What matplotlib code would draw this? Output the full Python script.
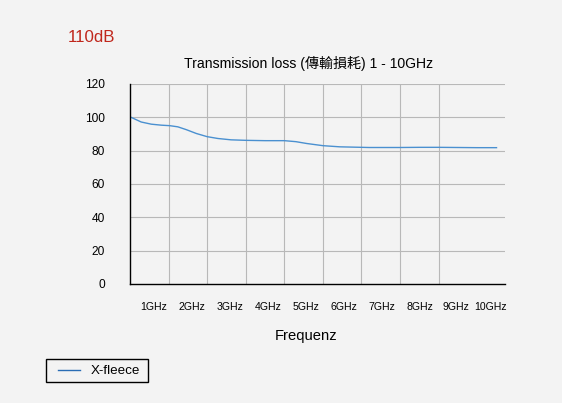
import matplotlib
matplotlib.use("Agg")
import matplotlib.pyplot as plt
from matplotlib.patches import Rectangle

plt.rcParams['font.family'] = ['Liberation Sans', 'Noto Sans CJK TC', 'DejaVu Sans']

# data
x_pos = [0, 0.29, 0.55, 0.81, 1.03, 1.24, 1.46, 1.72, 2.0, 2.28, 2.62, 3.0, 3.5, 4.0, 4.3,
         4.58, 5.0, 5.44, 6.2, 7.0, 7.5, 8.0, 8.5, 9.0, 9.5]
loss = [100.3, 97.2, 95.9, 95.3, 95.0, 94.3, 92.6, 90.3, 88.4, 87.3, 86.5, 86.2, 86.0, 86.0, 85.4,
        84.3, 83.0, 82.3, 81.9, 81.9, 82.0, 82.0, 81.9, 81.8, 81.8]
series_name = "X-fleece"
tick_labels = ["1GHz", "2GHz", "3GHz", "4GHz", "5GHz", "6GHz", "7GHz", "8GHz", "9GHz", "10GHz"]
tick_pos = [0.6, 1.6, 2.59, 3.58, 4.56, 5.54, 6.53, 7.51, 8.44, 9.34]
y_ticks = [0, 20, 40, 60, 80, 100, 120]

bg = '#f3f3f3'
W, H = 562, 403
fig = plt.figure(figsize=(5.62, 4.03), dpi=100, facecolor=bg)
ax = fig.add_axes([130/W, 119/H, 375/W, 200/H], facecolor=bg)

ax.plot(x_pos, loss, color='#4a90d0', lw=1.0, label=series_name)

ax.set_xlim(0, 9.72)
ax.set_ylim(0, 120)
ax.set_yticks(y_ticks)
ax.set_yticklabels([str(v) for v in y_ticks], fontsize=8.6)
ax.set_xticks(tick_pos)
ax.set_xticklabels(tick_labels, fontsize=7.6)
ax.tick_params(axis='both', length=0)
ax.tick_params(axis='y', pad=18)
ax.tick_params(axis='x', pad=13)

# grid
for gx in range(1, 9):
    ax.axvline(gx, color='#b8b8b8', lw=0.8, zorder=0)
for gy in y_ticks[1:]:
    ax.axhline(gy, color='#b8b8b8', lw=0.8, zorder=0)

for s in ['top', 'right']:
    ax.spines[s].set_visible(False)
for s in ['left', 'bottom']:
    ax.spines[s].set_color('black')
    ax.spines[s].set_linewidth(1.0)

fig.text(309/W, 1 - 63/H, "Transmission loss (傳輸損耗) 1 - 10GHz", fontsize=10.1,
         ha='center', va='center')
ax.set_xlabel("Frequenz", fontsize=10.6, labelpad=12)
ax.xaxis.label.set_x((306 - 130) / 375)

fig.text(68/W, 1 - 38/H, "110dB", color='#c0271c', fontsize=12.2, va='center', ha='left')

# legend box
fig.patches.append(Rectangle((46/W, 1 - 382/H), 102/W, 23/H, transform=fig.transFigure,
                             facecolor=bg, edgecolor='black', lw=1.0))
leg = fig.legend(loc='center left', bbox_to_anchor=(58/W, 1 - 371/H), fontsize=9.6,
                 frameon=False, handlelength=1.65, borderpad=0, handletextpad=0.83,
                 borderaxespad=0)
leg.legend_handles[0].set_color('#2a6db5')

fig.savefig('out.png', dpi=100, facecolor=bg)
